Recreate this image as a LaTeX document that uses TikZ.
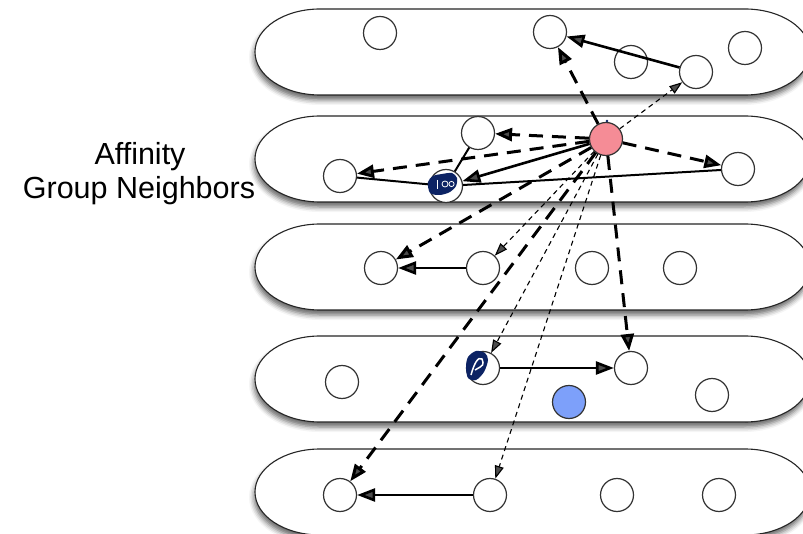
\documentclass[tikz,border=0pt]{standalone}
\usepackage{fontspec}
\setmainfont{Liberation Sans}
\usetikzlibrary{arrows.meta,shadows.blur}
\definecolor{nodered}{RGB}{245,140,150}
\definecolor{nodeblue}{RGB}{125,160,250}
\definecolor{ink}{RGB}{12,35,100}
\tikzset{
  vtx/.style={circle, draw=black!80, line width=1.2pt, fill=white, minimum size=33pt, inner sep=0pt},
  pill/.style={draw=black!85, line width=1.1pt, fill=white,
    blur shadow={shadow xshift=-1pt, shadow yshift=-5pt, shadow blur radius=5pt, shadow opacity=60}},
  thickdash/.style={line width=3pt, dash pattern=on 14pt off 9pt, -{Triangle[length=17pt,width=13pt]}},
  thindash/.style={line width=1.1pt, dash pattern=on 5pt off 4pt, -{Triangle[length=13pt,width=9pt]}},
  solidarrow/.style={line width=2.6pt, -{Triangle[length=18pt,width=13pt]}},
  solidline/.style={line width=2pt},
  lbl/.style={font=\fontsize{30.5}{34}\selectfont, anchor=base, inner sep=0pt},
}
\begin{document}
\begin{tikzpicture}[x=1pt,y=-1pt]
\useasboundingbox (0,0) rectangle (803,534);
% pills
\path[pill] (320,9) -- (745,9) arc[start angle=90,end angle=-90,x radius=65pt,y radius=43pt] -- (320,95) arc[start angle=270,end angle=90,x radius=65pt,y radius=43pt] -- cycle;
\path[pill] (320,116) -- (745,116) arc[start angle=90,end angle=-90,x radius=65pt,y radius=43pt] -- (320,202) arc[start angle=270,end angle=90,x radius=65pt,y radius=43pt] -- cycle;
\path[pill] (320,224) -- (745,224) arc[start angle=90,end angle=-90,x radius=65pt,y radius=43pt] -- (320,310) arc[start angle=270,end angle=90,x radius=65pt,y radius=43pt] -- cycle;
\path[pill] (320,336) -- (745,336) arc[start angle=90,end angle=-90,x radius=65pt,y radius=43pt] -- (320,422) arc[start angle=270,end angle=90,x radius=65pt,y radius=43pt] -- cycle;
\path[pill] (320,449) -- (745,449) arc[start angle=90,end angle=-90,x radius=65pt,y radius=43pt] -- (320,535) arc[start angle=270,end angle=90,x radius=65pt,y radius=43pt] -- cycle;
% label
\node[lbl] (t1) at (140,165) {Affinity};
\node[lbl] (t2) at (139,199) {Group Neighbors};
% nodes
\node[vtx] (a1) at (380,33) {};
\node[vtx] (a2) at (550,32) {};
\node[vtx] (a3) at (631,62) {};
\node[vtx] (a4) at (696,72) {};
\node[vtx] (a5) at (745,48) {};
\node[vtx, fill=nodered] (r) at (606,139) {};
\node[vtx] (b1) at (478,133) {};
\node[vtx] (b2) at (340,176) {};
\node[vtx] (b3) at (446,186) {};
\node[vtx] (b4) at (738,169) {};
\node[vtx] (c1) at (381,268) {};
\node[vtx] (c2) at (483,268) {};
\node[vtx] (c3) at (592,268) {};
\node[vtx] (c4) at (680,268) {};
\node[vtx] (d1) at (342,382) {};
\node[vtx] (d2) at (483,368) {};
\node[vtx] (d3) at (631,368) {};
\node[vtx, fill=nodeblue] (d4) at (569,402) {};
\node[vtx] (d5) at (712,395) {};
\node[vtx] (e1) at (340,495) {};
\node[vtx] (e2) at (490,495) {};
\node[vtx] (e3) at (617,495) {};
\node[vtx] (e4) at (719,495) {};
% edges
\draw[solidline] (b2) -- (b3);
\draw[solidline] (b3) -- (b4);
\draw[solidline] (b1) -- (b3);
\draw[solidarrow] (a4) -- (a2);
\draw[thickdash] (r) -- (a2);
\draw[thindash] (r) -- (a4);
\draw[thickdash] (r) -- (b1);
\draw[thickdash] (r) -- (b2);
\draw[thickdash] (r) -- (b4);
\draw[solidarrow] (r) -- (b3);
\draw[thickdash] (r) -- (c1);
\draw[thindash] (r) -- (c2);
\draw[thickdash] (r) -- (d3);
\draw[thindash] (r) -- (d2);
\draw[thickdash] (r) -- (e1);
\draw[thindash] (r) -- (e2);
\draw[solidarrow] (c2) -- (c1);
\draw[solidarrow] (d2) -- (d3);
\draw[solidarrow] (e2) -- (e1);
% hand scribbles
\fill[ink] plot[smooth cycle] coordinates {(428,182) (433,176) (442,174) (452,173) (457,178) (456,186) (450,192) (440,195) (430,193)};
\draw[white, line width=0.8pt] (437,180) -- (437,189);
\draw[white, line width=0.8pt] (445,184) circle [radius=3pt];
\draw[white, line width=0.8pt] (451.5,184) circle [radius=2.6pt];
\fill[ink] plot[smooth cycle] coordinates {(466,367) (468,357) (476,351) (485,353) (488,360) (484,372) (476,380) (468,378)};
\draw[white, line width=1.5pt] (471,375) .. controls (474,364) and (478,356) .. (482,359) .. controls (484,365) .. (475,370);
\fill[ink] (607,121) circle [radius=1.3pt];
\end{tikzpicture}
\end{document}
